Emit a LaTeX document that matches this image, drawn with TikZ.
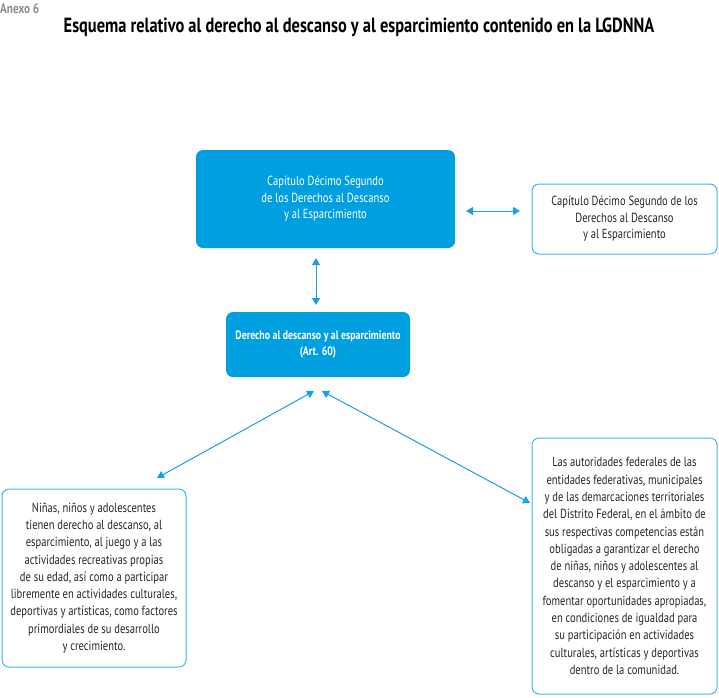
\documentclass[tikz,border=0pt]{standalone}
\usepackage{fontspec}
\setmainfont[FakeStretch=0.8]{PT Sans}
\usetikzlibrary{arrows.meta}
\definecolor{fillblue}{HTML}{009FE0}
\definecolor{lineblue}{HTML}{3DB6EA}
\definecolor{arrowblue}{HTML}{1A9FDF}
\definecolor{annexgray}{HTML}{8C8C8C}
\tikzset{
  x=1pt, y=-1pt,
  filledbox/.style={draw=none, fill=fillblue, rounded corners=7pt, text=white, align=center, inner sep=0pt},
  outlinebox/.style={draw=lineblue, line width=1pt, rounded corners=7pt, fill=white, text=black!85, align=center, inner sep=0pt},
  dblarrow/.style={draw=arrowblue, line width=1pt, {Triangle[width=8pt,length=7pt]}-{Triangle[width=8pt,length=7pt]}},
  txt/.style={font=\fontsize{13.2}{16.5}\selectfont},
  txtlong/.style={font=\fontsize{13.2}{17.3}\selectfont}
}
\begin{document}
\begin{tikzpicture}
\useasboundingbox (0,0) rectangle (719,697);
\node[anchor=west, inner sep=0pt, text=annexgray, font=\bfseries\fontsize{14}{14}\selectfont] (anexo) at (0,9) {Anexo 6};
\node[font=\bfseries\fontsize{20.5}{22}\selectfont] (title) at (359,27) {Esquema relativo al derecho al descanso y al esparcimiento contenido en la LGDNNA};

\node[filledbox, minimum width=259pt, minimum height=98pt, txt] (cap) at (325.5,199) {Capítulo Décimo Segundo\\de los Derechos al Descanso\\y al Esparcimiento};
\node[outlinebox, minimum width=185pt, minimum height=70pt, txt] (cap2) at (624.5,219) {Capítulo Décimo Segundo de los\\Derechos al Descanso\\y al Esparcimiento};
\node[filledbox, minimum width=184pt, minimum height=65pt, font=\bfseries\fontsize{12.3}{16}\selectfont] (der) at (318,344.5) {Derecho al descanso y al esparcimiento\\(Art. 60)};
\node[outlinebox, minimum width=184pt, minimum height=178pt, txtlong] (ninas) at (94,578) {Niñas, niños y adolescentes\\tienen derecho al descanso, al\\esparcimiento, al juego y a las\\actividades recreativas propias\\de su edad, así como a participar\\libremente en actividades culturales,\\deportivas y artísticas, como factores\\primordiales de su desarrollo\\y crecimiento.};
\node[outlinebox, minimum width=185pt, minimum height=256pt, txtlong] (aut) at (624.5,566) {Las autoridades federales de las\\entidades federativas, municipales\\y de las demarcaciones territoriales\\del Distrito Federal, en el ámbito de\\sus respectivas competencias están\\obligadas a garantizar el derecho\\de niñas, niños y adolescentes al\\descanso y el esparcimiento y a\\fomentar oportunidades apropiadas,\\en condiciones de igualdad para\\su participación en actividades\\culturales, artísticas y deportivas\\dentro de la comunidad.};

\coordinate (h1) at (466,211);
\coordinate (h2) at (520,211);
\coordinate (v1) at (316,258);
\coordinate (v2) at (316,305);
\coordinate (d1a) at (157,478);
\coordinate (d1b) at (314,391);
\coordinate (d2a) at (322,391);
\coordinate (d2b) at (530,503);
\draw[dblarrow] (h1) -- (h2);
\draw[dblarrow] (v1) -- (v2);
\draw[dblarrow] (d1a) -- (d1b);
\draw[dblarrow] (d2a) -- (d2b);
\end{tikzpicture}
\end{document}
